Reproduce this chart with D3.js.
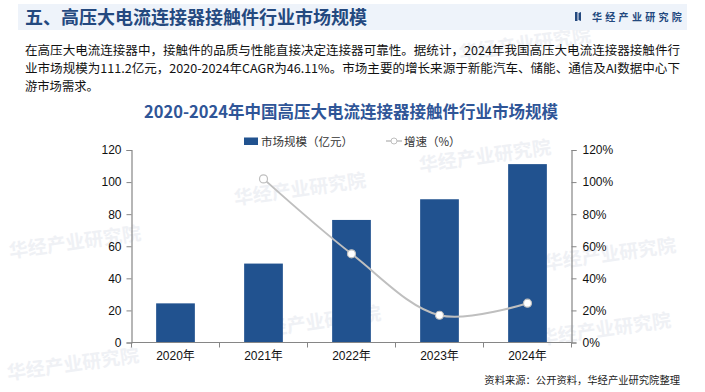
<!DOCTYPE html>
<head>
  <meta charset="utf-8">
  <script src="https://d3js.org/d3.v7.min.js"></script>
  <style>
    body { margin: 0; background: #fff; }
    svg { display: block; }
    text { font-family: "Noto Sans CJK SC", sans-serif; }
    .num { font-family: "Liberation Sans", "Noto Sans CJK SC", sans-serif; }
  </style>
</head>
<body>
<div id="chart"></div>
<script>
// data
var years = ["2020年", "2021年", "2022年", "2023年", "2024年"];
var marketSize = [24.4, 49.2, 76.4, 89.3, 111.2];     // 亿元
var growth = [null, 102.0, 55.3, 17.0, 24.5];          // %
var leftTicks = [0, 20, 40, 60, 80, 100, 120];
var rightTicks = [0, 20, 40, 60, 80, 100, 120];

var paragraph = [
  "在高压大电流连接器中，接触件的品质与性能直接决定连接器可靠性。据统计，2024年我国高压大电流连接器接触件行",
  "业市场规模为111.2亿元，2020-2024年CAGR为46.11%。市场主要的增长来源于新能汽车、储能、通信及AI数据中心下",
  "游市场需求。"
];

var W = 705, H = 392;
var barColor = "#21528f",
    lineColor = "#bfbfbf",
    axisColor = "#868686";

var svg = d3.select("#chart").append("svg")
    .attr("width", W)
    .attr("height", H);

// faint watermarks
var marks = [[10, 258], [235, 205], [420, 172], [460, 60], [540, 345], [545, 270], [250, 338], [8, 380]];
svg.selectAll(".wm")
  .data(marks)
  .enter()
  .append("text")
  .attr("class", "wm")
  .attr("x", function(d) { return d[0]; })
  .attr("y", function(d) { return d[1]; })
  .attr("transform", function(d) { return "rotate(-8," + d[0] + "," + d[1] + ")"; })
  .style("font-size", "19px")
  .style("font-weight", "bold")
  .style("fill", "#eff1f5")
  .text("华经产业研究院");

// header band
svg.append("rect")
  .attr("x", 18).attr("y", 4)
  .attr("width", 669).attr("height", 26)
  .style("fill", "#eef3fa");

svg.append("text")
  .attr("x", 25).attr("y", 24)
  .style("font-size", "18px")
  .style("font-weight", "bold")
  .style("fill", "#24497f")
  .text("五、高压大电流连接器接触件行业市场规模");

// logo
svg.append("rect").attr("x", 575).attr("y", 12).attr("width", 2.5).attr("height", 9).style("fill", "#24497f");
svg.append("path").attr("d", "M578.5,13 L581,12 L581,21 L578.5,20 Z").style("fill", "#24497f");
svg.append("text")
  .attr("x", 592).attr("y", 20.5)
  .style("font-size", "10px")
  .style("font-weight", "bold")
  .style("letter-spacing", "3.3px")
  .style("fill", "#24497f")
  .text("华经产业研究院");

// paragraph
svg.selectAll(".para")
  .data(paragraph)
  .enter()
  .append("text")
  .attr("class", "para")
  .attr("x", 25)
  .attr("y", function(d, i) { return 54.5 + i * 18; })
  .attr("textLength", function(d, i) { return i < 2 ? 655 : null; })
  .attr("lengthAdjust", "spacingAndGlyphs")
  .style("font-size", "12.3px")
  .style("fill", "#111")
  .text(function(d) { return d; });

// chart title
svg.append("text")
  .attr("x", 351).attr("y", 118)
  .attr("text-anchor", "middle")
  .style("font-size", "16.5px")
  .style("font-weight", "bold")
  .style("fill", "#2f5597")
  .text("2020-2024年中国高压大电流连接器接触件行业市场规模");

// legend
var legend = svg.append("g");
legend.append("rect")
  .attr("x", 244).attr("y", 137.5)
  .attr("width", 14).attr("height", 7.5)
  .style("fill", barColor);
legend.append("text")
  .attr("x", 261).attr("y", 145.5)
  .style("font-size", "11.5px")
  .style("fill", "#333")
  .text("市场规模（亿元）");
legend.append("line")
  .attr("x1", 386).attr("x2", 402)
  .attr("y1", 141).attr("y2", 141)
  .style("stroke", lineColor).style("stroke-width", 1.5);
legend.append("circle")
  .attr("cx", 394).attr("cy", 141).attr("r", 3)
  .style("fill", "#fff").style("stroke", lineColor);
legend.append("text")
  .attr("x", 404).attr("y", 145.5)
  .style("font-size", "11.5px")
  .style("fill", "#333")
  .text("增速（%）");

// scales
var x = d3.scaleBand()
    .domain(years)
    .range([131.5, 571.5])
    .paddingInner(0.56)
    .paddingOuter(0.28);

var y = d3.scaleLinear().domain([0, 120]).range([342.5, 150]);
var y2 = d3.scaleLinear().domain([0, 120]).range([342.5, 150]);

// bars
svg.selectAll(".bar")
  .data(marketSize)
  .enter()
  .append("rect")
  .attr("class", "bar")
  .attr("x", function(d, i) { return x(years[i]); })
  .attr("y", function(d) { return y(d); })
  .attr("width", x.bandwidth())
  .attr("height", function(d) { return y(0) - y(d); })
  .style("fill", barColor);

// axes
var leftAxis = svg.append("g")
  .attr("class", "num")
  .attr("transform", "translate(131.5,0)")
  .call(d3.axisLeft(y).tickValues(leftTicks).tickSize(5).tickPadding(5));

var rightAxis = svg.append("g")
  .attr("class", "num")
  .attr("transform", "translate(571.5,0)")
  .call(d3.axisRight(y2).tickValues(rightTicks).tickSize(5).tickPadding(6)
    .tickFormat(function(d) { return d + "%"; }));

var bottomAxis = svg.append("g")
  .attr("class", "num")
  .attr("transform", "translate(0,342.5)")
  .call(d3.axisBottom(x).tickSize(0).tickPadding(9));

// category boundary ticks
var step = x.step();
var bounds = d3.range(years.length + 1).map(function(i) {
  return x(years[0]) - x.step() * x.paddingInner() / 2 + i * step;
});
svg.selectAll(".btick")
  .data(bounds)
  .enter()
  .append("line")
  .attr("class", "btick")
  .attr("x1", function(d) { return d; })
  .attr("x2", function(d) { return d; })
  .attr("y1", 342.5).attr("y2", 347.5)
  .style("stroke", axisColor);

[leftAxis, rightAxis, bottomAxis].forEach(function(g) {
  g.selectAll("path.domain").style("stroke", axisColor).style("stroke-width", 1.2);
  g.selectAll(".tick line").style("stroke", axisColor);
  g.selectAll("text").style("font-size", "12px").style("fill", "#111")
    .style("font-family", "'Liberation Sans', 'Noto Sans CJK SC', sans-serif");
});
bottomAxis.selectAll("path.domain").attr("d", "M131.5,0H571.5");

// growth line
var pts = growth.map(function(d, i) { return { year: years[i], v: d }; })
  .filter(function(d) { return d.v !== null; });

var line = d3.line()
  .x(function(d) { return x(d.year) + x.bandwidth() / 2; })
  .y(function(d) { return y2(d.v); })
  .curve(d3.curveCatmullRom.alpha(0.5));

svg.append("path")
  .datum(pts)
  .attr("d", line)
  .style("fill", "none")
  .style("stroke", lineColor)
  .style("stroke-width", 2);

svg.selectAll(".pt")
  .data(pts)
  .enter()
  .append("circle")
  .attr("class", "pt")
  .attr("cx", function(d) { return x(d.year) + x.bandwidth() / 2; })
  .attr("cy", function(d) { return y2(d.v); })
  .attr("r", 4)
  .style("fill", "#fff")
  .style("stroke", lineColor)
  .style("stroke-width", 1.2);

// source
svg.append("text")
  .attr("x", 680).attr("y", 384)
  .attr("text-anchor", "end")
  .style("font-size", "10.3px")
  .style("fill", "#222")
  .text("资料来源：公开资料，华经产业研究院整理");
</script>
</body>
</html>
